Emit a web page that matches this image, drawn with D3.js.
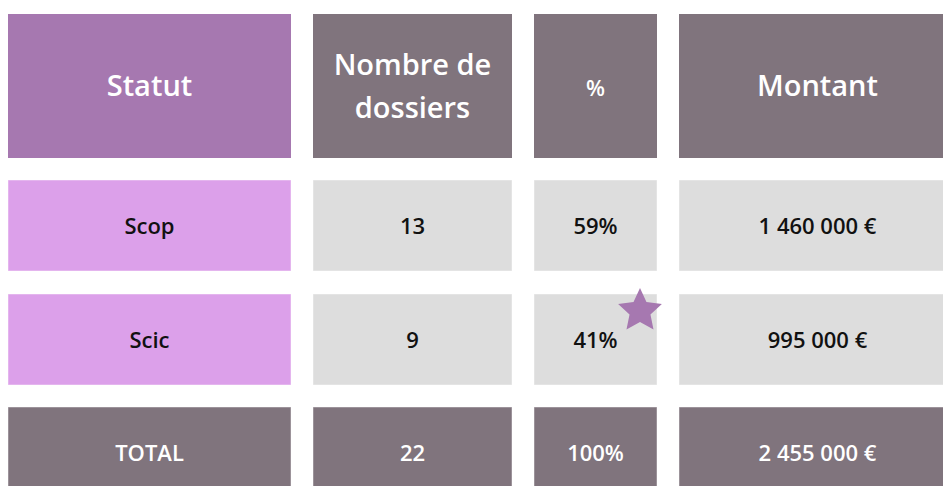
<!DOCTYPE html>
<html>
<head>
<meta charset="utf-8">
<script src="https://cdnjs.cloudflare.com/ajax/libs/d3/7.8.5/d3.min.js"></script>
<style>
    body { margin: 0; background: #fff; }
    svg { display: block; font-family: "Open Sans", sans-serif; }
</style>
</head>
<body>
<div id="chart"></div>
<script>
// Data
const headers = [['Statut'], ['Nombre de', 'dossiers'], ['%'], ['Montant']];
const statuts = ['Scop', 'Scic'];
const dossiers = [13, 9];
const pourcents = [59, 41];
const montants = [1460000, 995000];
const totalLabel = 'TOTAL';
const totalDossiers = 22;
const totalPourcent = 100;
const totalMontant = 2455000;

// Layout
const width = 943, height = 486;
const colX = [8, 313, 534, 679];
const colW = [283, 199, 123, 277];
const headerY = 14, headerH = 144;
const rowY = [180, 294, 407];
const rowH = 91;

const purple = '#a678b0';
const mauve = '#80747d';
const lilac = '#dca0ea';
const lightGrey = '#dddddd';

const fr = d3.formatLocale({ decimal: ',', thousands: '\u00a0', grouping: [3], currency: ['', '\u00a0€'] });
const fmtNum = fr.format(',d');
const fmtEur = d => fmtNum(d) + ' €';

const svg = d3.select('#chart')
    .append('svg')
    .attr('width', width)
    .attr('height', height);

// Build rows
const rows = statuts.map((s, i) => ({
    cells: [s, fmtNum(dossiers[i]), pourcents[i] + '%', fmtEur(montants[i])],
    fills: [lilac, lightGrey, lightGrey, lightGrey],
    color: '#111',
    y: rowY[i]
}));
rows.push({
    cells: [totalLabel, fmtNum(totalDossiers), totalPourcent + '%', fmtEur(totalMontant)],
    fills: [mauve, mauve, mauve, mauve],
    color: '#fff',
    y: rowY[2]
});

// Header
const head = svg.append('g').selectAll('g')
    .data(headers)
    .enter()
    .append('g')
    .attr('transform', (d, i) => `translate(${colX[i]}, ${headerY})`);

head.append('rect')
    .attr('width', (d, i) => colW[i])
    .attr('height', headerH)
    .attr('fill', (d, i) => i === 0 ? purple : mauve);

head.append('text')
    .attr('x', (d, i) => colW[i] / 2)
    .attr('text-anchor', 'middle')
    .attr('fill', '#fff')
    .attr('font-weight', 600)
    .attr('font-size', (d, i) => i === 2 ? 22 : 29)
    .each(function(d) {
        const lh = 43;
        const y0 = headerH / 2 + 10 - (d.length - 1) * lh / 2;
        d3.select(this).selectAll('tspan')
            .data(d)
            .enter()
            .append('tspan')
            .attr('x', d3.select(this).attr('x'))
            .attr('y', (t, j) => y0 + j * lh)
            .text(t => t);
    });

// Body rows
const rowG = svg.append('g').selectAll('g')
    .data(rows)
    .enter()
    .append('g')
    .attr('transform', d => `translate(0, ${d.y})`);

const cells = rowG.selectAll('g')
    .data(d => d.cells.map((c, i) => ({ text: c, fill: d.fills[i], color: d.color, i: i })))
    .enter()
    .append('g')
    .attr('transform', d => `translate(${colX[d.i]}, 0)`);

cells.append('rect')
    .attr('width', d => colW[d.i])
    .attr('height', rowH)
    .attr('fill', d => d.fill)
    .attr('stroke', 'rgba(255,255,255,0.45)')
    .attr('stroke-width', 1);

cells.append('text')
    .attr('x', d => colW[d.i] / 2)
    .attr('y', rowH / 2 + 8)
    .attr('text-anchor', 'middle')
    .attr('fill', d => d.color)
    .attr('font-weight', 600)
    .attr('font-size', 22)
    .text(d => d.text);

// Star decoration (5 points, chunky)
const starPts = d3.range(10).map(k => [k * Math.PI / 5, k % 2 === 0 ? 23 : 11]);
svg.append('path')
    .attr('d', d3.lineRadial().curve(d3.curveLinearClosed)(starPts))
    .attr('transform', 'translate(640, 311)')
    .attr('fill', purple);
</script>
</body>
</html>
